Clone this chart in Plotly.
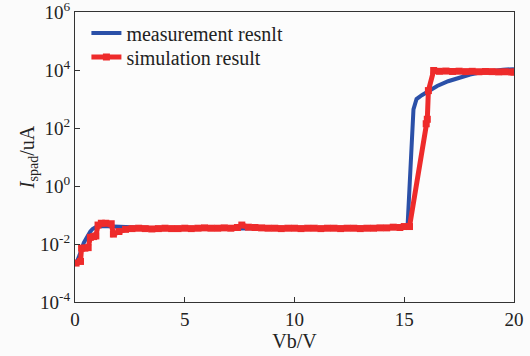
import plotly.graph_objects as go

# Measurement (blue)
meas_x = [0.0, 0.1, 0.2, 0.3, 0.4, 0.5, 0.6, 0.7, 0.8, 0.9, 1.0, 1.2, 1.5, 2.0, 2.5, 3.0,
          3.5, 4.0, 4.5, 5.0, 5.5, 6.0, 6.5, 7.0, 7.5, 8.0, 8.5, 9.0, 9.5, 10.0, 10.5, 11.0,
          11.5, 12.0, 12.5, 13.0, 13.5, 14.0, 14.5, 15.0, 15.15, 15.42, 15.5, 15.56, 15.8,
          16.1, 16.5, 17.0, 17.5, 18.0, 18.5, 19.0, 19.5, 20.0]
meas_y = [0.002, 0.0026, 0.004, 0.007, 0.011, 0.015, 0.021, 0.027, 0.033, 0.037, 0.040, 0.042,
          0.041, 0.038, 0.037, 0.036, 0.035, 0.034, 0.034, 0.035, 0.035, 0.034, 0.035, 0.036,
          0.034, 0.035, 0.036, 0.036, 0.035, 0.036, 0.036, 0.035, 0.036, 0.036, 0.036, 0.036,
          0.037, 0.037, 0.037, 0.038, 0.040, 440, 750, 1000, 1350, 1850, 2800, 4100, 5500,
          7000, 8300, 9300, 10200, 10700]

# Simulation (red)
sim_x = [0.05, 0.25, 0.3, 0.45, 0.6, 0.7, 0.85, 0.95, 1.05, 1.2, 1.4, 1.65, 1.75, 2.0, 2.3,
         2.6, 2.9, 3.2, 3.5, 3.8, 4.1, 4.4, 4.7, 5.0, 5.3, 5.6, 5.9, 6.2, 6.5, 6.8, 7.1, 7.4,
         7.6, 7.9, 8.2, 8.5, 8.8, 9.1, 9.4, 9.7, 10.0, 10.3, 10.6, 10.9, 11.2, 11.5, 11.8,
         12.1, 12.4, 12.7, 13.0, 13.3, 13.6, 13.9, 14.2, 14.5, 14.8, 15.0, 15.24, 16.0,
         16.05, 16.1, 16.34, 16.6, 16.9, 17.2, 17.5, 17.8, 18.1, 18.4, 18.7, 19.0, 19.3,
         19.6, 19.9, 20.0]
sim_y = [0.0022, 0.0025, 0.0072, 0.0072, 0.0075, 0.017, 0.018, 0.019, 0.045, 0.052, 0.052,
         0.050, 0.022, 0.027, 0.032, 0.034, 0.035, 0.034, 0.033, 0.034, 0.035, 0.034, 0.034,
         0.035, 0.034, 0.035, 0.036, 0.035, 0.035, 0.036, 0.035, 0.037, 0.045, 0.038, 0.037,
         0.036, 0.035, 0.035, 0.034, 0.035, 0.035, 0.034, 0.035, 0.035, 0.034, 0.035, 0.035,
         0.034, 0.035, 0.035, 0.034, 0.035, 0.035, 0.036, 0.036, 0.038, 0.037, 0.040, 0.040,
         140, 200, 1950, 9600, 9000, 9200, 8900, 9100, 8800, 9000, 8700, 8900, 8800, 8600,
         8700, 8500, 8500]

x_ticks = [0, 5, 10, 15, 20]
y_ticks = [1e-4, 1e-2, 1e0, 1e2, 1e4, 1e6]
y_tick_text = ["10<sup>-4</sup>", "10<sup>-2</sup>", "10<sup>0</sup>", "10<sup>2</sup>",
               "10<sup>4</sup>", "10<sup>6</sup>"]

FONT = "Liberation Serif"
fig = go.Figure()
fig.add_trace(go.Scatter(x=meas_x, y=meas_y, mode="lines", name="measurement resnlt",
                         line=dict(color="#2b50a8", width=4), legend="legend"))
fig.add_trace(go.Scatter(x=sim_x, y=sim_y, mode="lines+markers", name="simulation result",
                         line=dict(color="#ee2b2b", width=5),
                         marker=dict(symbol="square", size=7, color="#ee2b2b"),
                         legend="legend2"))

leg_common = dict(xanchor="left", yanchor="middle", bgcolor="rgba(0,0,0,0)",
                  font=dict(family=FONT, size=20), itemwidth=30)

fig.update_layout(
    width=530, height=356,
    margin=dict(l=75, r=16, t=12, b=54, autoexpand=False),
    paper_bgcolor="#fbfbfb", plot_bgcolor="#fcfcfc",
    font=dict(family=FONT, size=18, color="#222"),
    showlegend=True,
    legend=dict(x=0.026, y=0.928, **leg_common),
    legend2=dict(x=0.026, y=0.845, **leg_common),
    xaxis=dict(range=[0, 20], tickvals=x_ticks, ticks="inside", ticklen=5, tickwidth=1,
               tickcolor="#333", showline=True, linecolor="#333", linewidth=1.2, mirror=True,
               showgrid=False, zeroline=False, tickfont=dict(size=19), automargin=False,
               ticklabeloverflow="allow",
               title=dict(text="Vb/V", font=dict(size=20), standoff=5)),
    yaxis=dict(type="log", range=[-4, 6], tickvals=y_ticks, ticktext=y_tick_text,
               ticks="inside", ticklen=5, tickwidth=1, tickcolor="#333", showline=True,
               linecolor="#333", linewidth=1.2, mirror=True, showgrid=False, zeroline=False,
               tickfont=dict(size=19), automargin=False, ticklabeloverflow="allow",
               title=dict(text="<i>I</i><sub>spad</sub>/uA", font=dict(size=20), standoff=0)),
)

fig.write_html("out.html")
